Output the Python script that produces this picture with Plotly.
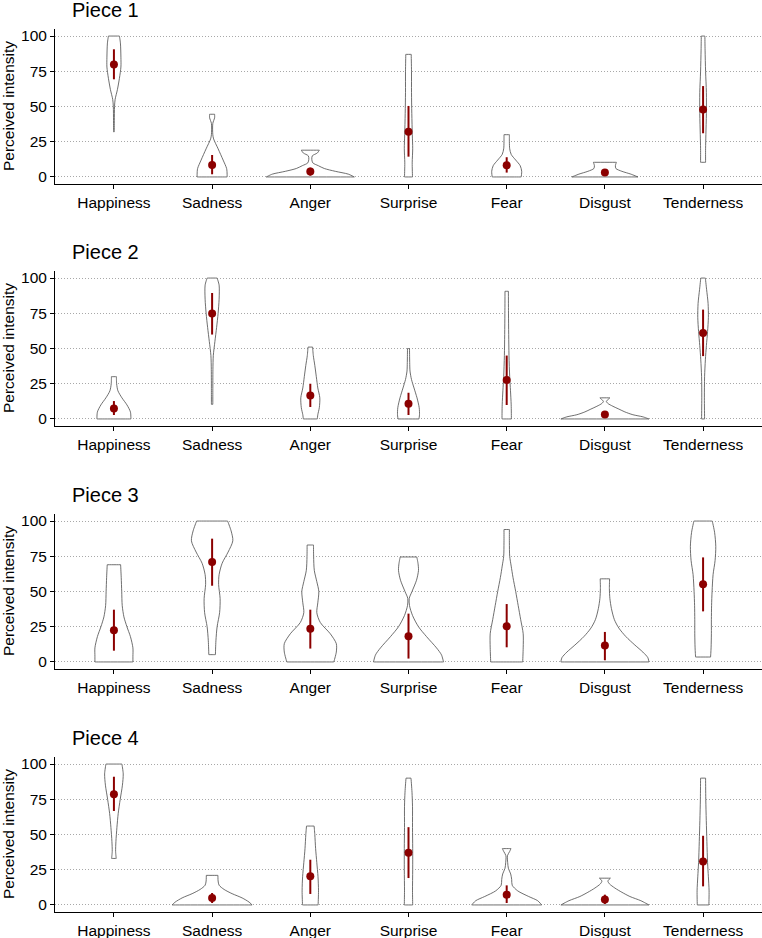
import plotly.graph_objects as go

# ---------------- data ----------------
EMOTIONS = ["Happiness", "Sadness", "Anger", "Surprise", "Fear", "Disgust", "Tenderness"]
PIECES = ["Piece 1", "Piece 2", "Piece 3", "Piece 4"]
Y_TICKS = [0, 25, 50, 75, 100]

# mean and error bar limits per emotion
P1_MEAN = [79.8, 8.5, 3.8, 32.1, 8.3, 3.1, 47.8]
P1_LOW = [69.3, 1.9, 0.9, 14.4, 3.1, 1.6, 31.0]
P1_HIGH = [90.6, 15.6, 6.6, 50.4, 14.0, 4.6, 64.5]

P2_MEAN = [7.5, 74.8, 16.7, 10.8, 27.6, 3.1, 61.0]
P2_LOW = [2.8, 59.9, 8.5, 2.8, 9.9, 1.2, 44.6]
P2_HIGH = [12.7, 89.4, 25.0, 18.6, 45.0, 5.0, 77.6]

P3_MEAN = [22.5, 70.9, 23.6, 18.2, 25.3, 11.6, 55.1]
P3_LOW = [8.0, 54.1, 9.5, 2.4, 10.4, 1.2, 35.9]
P3_HIGH = [37.1, 87.5, 37.1, 34.3, 41.1, 21.3, 74.2]

P4_MEAN = [78.5, 5.0, 20.3, 37.0, 7.3, 3.8, 30.9]
P4_LOW = [66.7, 1.4, 7.8, 19.1, 1.4, 0.7, 13.2]
P4_HIGH = [91.0, 8.5, 32.1, 55.2, 13.9, 7.3, 49.1]

# violin density profiles: (value, relative density) from top to bottom
P1_VIOLIN = [
    [(100, 5.5), (95, 6.5), (85, 7), (78, 7), (70, 5.5), (62, 3.5), (55, 1.2), (50, 0.6), (40, 0.4), (32, 0.3)],
    [(44.5, 2.5), (42, 2.5), (38, 0.7), (30, 0.7), (27, 1.5), (20, 6), (12, 11), (6, 14.5), (2, 15), (0, 15)],
    [(19, 9), (17, 7), (15, 2), (12.5, 1.5), (10, 2.5), (8, 8), (6, 14), (4, 25), (2, 38), (0, 44)],
    [(87, 2.7), (75, 3), (60, 3), (45, 3.3), (30, 3.8), (20, 4.2), (10, 3.7), (0, 4)],
    [(30, 2.7), (25, 2.7), (20, 3), (16, 4.5), (12, 9), (8, 13.5), (4, 15), (0, 14.5)],
    [(10.4, 11.5), (8, 10.5), (6, 11), (4, 17), (2, 26), (0, 33)],
    [(100, 1.8), (90, 2), (75, 2.5), (60, 3.3), (45, 3.3), (30, 2.8), (20, 2.5), (10.4, 2.5)],
]
P2_VIOLIN = [
    [(30, 2.5), (25, 2.7), (20, 4), (15, 8), (10, 13), (5, 16.5), (0, 17)],
    [(100, 5), (95, 7), (85, 7), (75, 6), (65, 4.5), (55, 2.8), (45, 1.2), (35, 0.8), (20, 0.7), (10.4, 0.7)],
    [(51, 2.3), (45, 3), (38, 4.5), (30, 6), (22, 7.5), (15, 9.5), (8, 9), (3, 7.5), (0, 7)],
    [(50, 1), (40, 1.2), (34, 1.5), (28, 3), (22, 5.5), (15, 8.5), (8, 10.7), (3, 11), (0, 10.5)],
    [(90.6, 1.7), (75, 1.8), (60, 2), (45, 2.3), (30, 3), (20, 3.8), (10, 4.5), (0, 4.7)],
    [(15, 5), (14, 3.5), (12.5, 1.5), (11, 3), (9, 8), (7, 14), (5, 20), (3, 28), (1.5, 38), (0, 44)],
    [(100, 2.3), (92, 3.5), (82, 5), (72, 5.3), (62, 4.5), (52, 3.3), (42, 2.3), (30, 1.5), (15, 1.3), (0, 1.5)],
]
P3_VIOLIN = [
    [(69, 6.7), (60, 7.3), (50, 7.8), (40, 8.3), (32, 10), (25, 13), (18, 16.5), (10, 19), (4, 19), (0, 19)],
    [(100, 15.5), (93, 19), (86, 20.7), (78, 16), (70, 10), (62, 7), (55, 6.5), (45, 8), (35, 7.5), (25, 5), (15, 3.8), (5.2, 3.3)],
    [(83, 3.2), (75, 3.3), (65, 4), (57, 6.5), (50, 8.5), (42, 7.5), (35, 6.5), (28, 10), (20, 20), (13, 26), (7, 26), (0, 23.5)],
    [(74.5, 8.3), (70, 9.5), (65, 10), (58, 8), (50, 3.5), (45, 0.7), (40, 1), (33, 4), (25, 10), (18, 18), (10, 28), (5, 33), (0, 35)],
    [(94, 2.7), (85, 2.7), (75, 3), (68, 4.5), (60, 6.3), (50, 9), (40, 11.5), (30, 14), (20, 16.5), (10, 16.5), (0, 16)],
    [(59, 4.7), (52, 4.5), (45, 5), (38, 6.5), (30, 9.5), (24, 14), (18, 21), (12, 30), (7, 38), (3, 43), (0, 44)],
    [(100, 9.2), (92, 11.5), (82, 12.7), (72, 12), (62, 10), (50, 9), (40, 8.5), (30, 8.3), (20, 8.3), (10, 8), (3.5, 7.5)],
]
P4_VIOLIN = [
    [(100, 8), (93, 9.3), (85, 8.5), (75, 6.3), (65, 4.3), (55, 3), (45, 2), (38, 1.7), (33, 2.3)],
    [(21, 5.8), (17, 6), (14, 7), (11, 12), (8, 20), (5, 30), (2, 37), (0, 40)],
    [(56, 3.8), (50, 4.5), (40, 5.3), (30, 6.5), (20, 7.7), (10, 8.2), (0, 7.8)],
    [(90, 2.5), (80, 3.5), (70, 4), (55, 4), (40, 4.2), (25, 4.2), (10, 4), (0, 4.2)],
    [(40, 4.3), (38, 3), (35, 0.8), (30, 1), (26, 1.7), (22, 4), (18, 5), (14, 5.5), (10, 11), (6, 22), (3, 31), (0, 35)],
    [(19, 5.5), (17, 3), (15, 4.5), (12, 10), (9, 17), (6, 25), (3, 36), (0, 44)],
    [(90, 2.5), (75, 2.7), (60, 3.2), (45, 3.8), (30, 4.5), (20, 5.3), (10, 6), (0, 5.8)],
]

MEANS = [P1_MEAN, P2_MEAN, P3_MEAN, P4_MEAN]
LOWS = [P1_LOW, P2_LOW, P3_LOW, P4_LOW]
HIGHS = [P1_HIGH, P2_HIGH, P3_HIGH, P4_HIGH]
VIOLINS = [P1_VIOLIN, P2_VIOLIN, P3_VIOLIN, P4_VIOLIN]

# ---------------- layout geometry ----------------
W, H = 762, 938
ML, MR, MT, MB = 55, 0, 29, 26
PLOT_H = H - MT - MB
PLOT_W = W - ML - MR
PANEL_TOPS = [29, 271, 514, 757]
PANEL_H = 155
DENSITY_SCALE = 1 / 98.2  # relative density -> category units

FONT = "Liberation Sans, Arial, sans-serif"
DARKRED = "#8B0000"


def py(px):
    return (H - MB - px) / PLOT_H


def violin_path(c, prof):
    """Closed outline; end rows are doubled so the trimmed ends stay flat."""
    vals = [v for v, d in prof]
    half = [d * DENSITY_SCALE for v, d in prof]
    right = [(c + h, v) for h, v in zip(half, vals)]
    left = [(c - h, v) for h, v in zip(half, vals)][::-1]
    pts = [right[0]] + right + [right[-1]] + [left[0]] + left + [left[-1]] + [right[0]]
    return [p[0] for p in pts], [p[1] for p in pts]


fig = go.Figure()
layout = dict(
    width=W, height=H,
    margin=dict(l=ML, r=MR, t=MT, b=MB, autoexpand=False),
    paper_bgcolor="white", plot_bgcolor="white",
    showlegend=False,
    font=dict(family=FONT, color="black", size=15),
    annotations=[],
)

for p in range(4):
    suffix = "" if p == 0 else str(p + 1)
    xa = "x" + suffix
    ya = "y" + suffix
    top = PANEL_TOPS[p]
    bot = top + PANEL_H

    for i, prof in enumerate(VIOLINS[p]):
        xs, ys = violin_path(i + 1, prof)
        fig.add_trace(go.Scatter(
            x=xs, y=ys, mode="lines", fill="toself", fillcolor="white",
            line=dict(color="#4a4a4a", width=0.8, shape="spline", smoothing=0.8, simplify=False),
            xaxis=xa, yaxis=ya, hoverinfo="skip",
        ))

    mean = MEANS[p]
    fig.add_trace(go.Scatter(
        x=list(range(1, 8)), y=mean, mode="markers",
        marker=dict(color=DARKRED, size=8),
        error_y=dict(type="data", symmetric=False,
                     array=[h - m for h, m in zip(HIGHS[p], mean)],
                     arrayminus=[m - l for m, l in zip(mean, LOWS[p])],
                     color=DARKRED, thickness=2, width=0),
        xaxis=xa, yaxis=ya,
    ))

    layout["xaxis" + suffix] = dict(
        domain=[0, 1], anchor=ya, range=[0.4, 7.6], automargin=False,
        tickvals=list(range(1, 8)), ticktext=EMOTIONS,
        showgrid=False, zeroline=False,
        showline=True, linecolor="black", linewidth=1,
        ticks="outside", ticklen=4, tickcolor="black", tickwidth=1,
        tickfont=dict(size=15.5, color="black", family=FONT),
        fixedrange=True,
    )
    layout["yaxis" + suffix] = dict(
        domain=[py(bot), py(top)], anchor=xa, range=[-5, 105], automargin=False,
        tickvals=Y_TICKS, ticktext=[str(t) for t in Y_TICKS],
        showgrid=True, gridcolor="#a8a8a8", griddash="1px,2px", gridwidth=0.8,
        zeroline=False,
        showline=True, linecolor="black", linewidth=1,
        ticks="outside", ticklen=4, tickcolor="black", tickwidth=1,
        tickfont=dict(size=15.5, color="black", family=FONT),
        fixedrange=True,
    )
    layout["annotations"].append(dict(
        text=PIECES[p], xref="paper", yref="paper",
        x=(70 - ML) / PLOT_W, y=py(top - 19), xanchor="left", yanchor="middle",
        showarrow=False, font=dict(size=20, family=FONT, color="black"),
    ))
    layout["annotations"].append(dict(
        text="Perceived intensity", xref="paper", yref="paper",
        x=(8.5 - ML) / PLOT_W, y=py((top + bot) / 2), xanchor="center", yanchor="middle",
        textangle=-90, showarrow=False, font=dict(size=15.5, family=FONT, color="black"),
    ))

fig.update_layout(**layout)
fig.write_html(
    "out.html",
    config={"displayModeBar": False},
    post_script="document.body.style.margin='0';document.body.style.overflow='hidden';",
)
